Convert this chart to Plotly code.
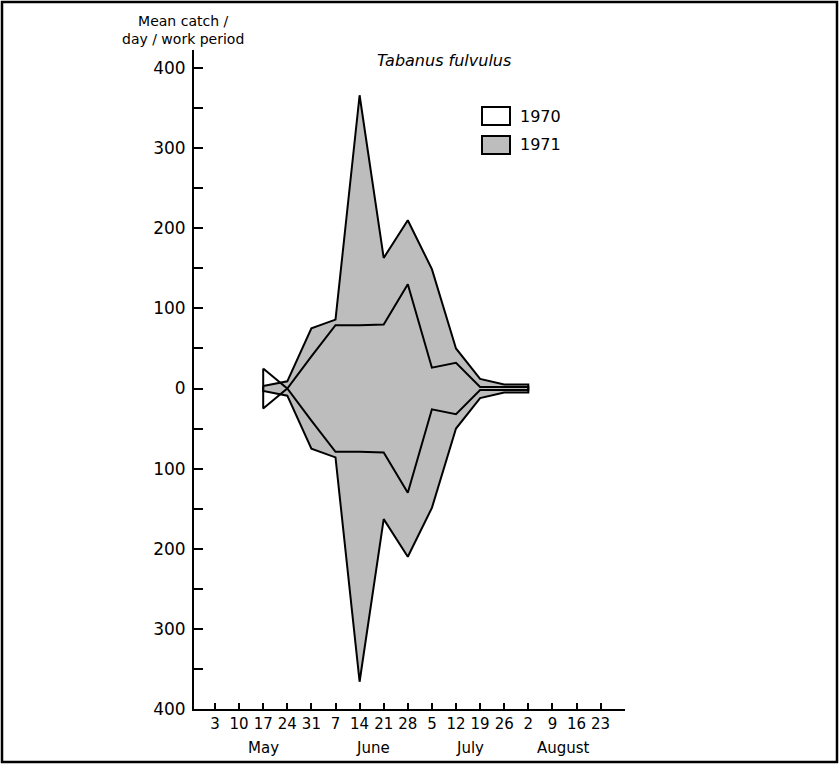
import plotly.graph_objects as go

# Weekly axis (sampling weeks, May-August)
axis_weeks = ["May 3", "May 10", "May 17", "May 24", "May 31",
              "Jun 7", "Jun 14", "Jun 21", "Jun 28",
              "Jul 5", "Jul 12", "Jul 19", "Jul 26",
              "Aug 2", "Aug 9", "Aug 16", "Aug 23"]
week_ticks = [w.split()[1] for w in axis_weeks]
months = ["May", "June", "July", "August"]

# Sampling dates and mean catch / day / work period (half-width of each kite)
sample_dates = ["May 17", "May 24", "May 31", "Jun 7", "Jun 14", "Jun 21",
                "Jun 28", "Jul 5", "Jul 12", "Jul 19", "Jul 26", "Aug 2"]
catch_1970 = [25, 0, 40, 79, 79, 80, 130, 26, 32, 2, 2, 2]
catch_1971 = [3, 9, 75, 86, 366, 163, 210, 149, 50, 12, 5, 5]

# ---- page geometry (pixels) ----
W, H = 839, 765
L, R, T, B = 194, 625, 50, 709
pw, ph = R - L, B - T


def px(x):
    return (x - L) / pw


def py(y):
    return (B - y) / ph


xs = [axis_weeks.index(d) for d in sample_dates]


def kite(vals):
    # closed outline: upper edge left->right, lower edge right->left, back to start
    kx = xs + xs[::-1] + xs[:1]
    ky = list(vals) + [-v for v in vals[::-1]] + [vals[0]]
    return kx, ky


GRAY = "#bdbdbd"
FONT = "DejaVu Sans"

fig = go.Figure()

kx, ky = kite(catch_1971)
fig.add_trace(go.Scatter(x=kx, y=ky, mode="lines", fill="toself",
                         fillcolor=GRAY, line=dict(color="black", width=2),
                         name="1971", showlegend=False, hoverinfo="skip"))

kx, ky = kite(catch_1970)
fig.add_trace(go.Scatter(x=kx, y=ky, mode="lines", fill="none",
                         line=dict(color="black", width=2),
                         name="1970", showlegend=False, hoverinfo="skip"))

ytv = list(range(-400, 401, 50))
ytt = [str(abs(v)) if v % 100 == 0 else "" for v in ytv]

step = 24.1  # pixels per week
x0 = -(215 - L) / step
x1 = x0 + pw / step
fig.update_xaxes(range=[x0, x1], tickvals=list(range(len(axis_weeks))),
                 ticktext=week_ticks, ticks="inside", ticklen=6, tickwidth=2,
                 tickcolor="black", showline=True, linecolor="black",
                 linewidth=2, showgrid=False, zeroline=False,
                 tickfont=dict(family=FONT, size=15, color="black"))
ylow = -400
yhigh = ylow + 800 * ph / (B - 68)
fig.update_yaxes(range=[ylow, yhigh], tickvals=ytv, ticktext=ytt,
                 ticks="inside", ticklen=9, tickwidth=2, tickcolor="black",
                 showline=True, linecolor="black", linewidth=2,
                 showgrid=False, zeroline=False, ticklabelstandoff=3,
                 tickfont=dict(family=FONT, size=17, color="black"))

ann = []
ann.append(dict(text="Mean catch /<br>day / work period", xref="paper",
                yref="paper", x=px(183), y=py(30), showarrow=False,
                xanchor="center", yanchor="middle",
                font=dict(family=FONT, size=14, color="black")))
ann.append(dict(text="<i>Tabanus fulvulus</i>", xref="paper", yref="paper",
                x=px(444), y=py(61), showarrow=False, xanchor="center",
                yanchor="middle", font=dict(family=FONT, size=16,
                                            color="black")))
month_x = [2.0, 6.55, 10.6, 14.45]
for m, mx in zip(months, month_x):
    ann.append(dict(text=m, xref="x", yref="paper", x=mx, y=py(748),
                    showarrow=False, xanchor="center", yanchor="middle",
                    font=dict(family=FONT, size=15, color="black")))
for lab, yc in (("1970", 116), ("1971", 145)):
    ann.append(dict(text=lab, xref="paper", yref="paper", x=px(518),
                    y=py(yc), showarrow=False, xanchor="left",
                    yanchor="middle",
                    font=dict(family=FONT, size=16, color="black")))

shapes = [
    dict(type="rect", xref="paper", yref="paper", x0=px(482), x1=px(510),
         y0=py(107), y1=py(125), fillcolor="white",
         line=dict(color="black", width=2)),
    dict(type="rect", xref="paper", yref="paper", x0=px(482), x1=px(510),
         y0=py(136), y1=py(154), fillcolor=GRAY,
         line=dict(color="black", width=2)),
    dict(type="rect", xref="paper", yref="paper", x0=px(2), x1=px(837),
         y0=py(762), y1=py(2), fillcolor="rgba(0,0,0,0)",
         line=dict(color="black", width=2.5)),
]

fig.update_layout(width=W, height=H,
                  margin=dict(l=L, r=W - R, t=T, b=H - B),
                  plot_bgcolor="white", paper_bgcolor="white",
                  annotations=ann, shapes=shapes, showlegend=False)

fig.write_html("out.html")
